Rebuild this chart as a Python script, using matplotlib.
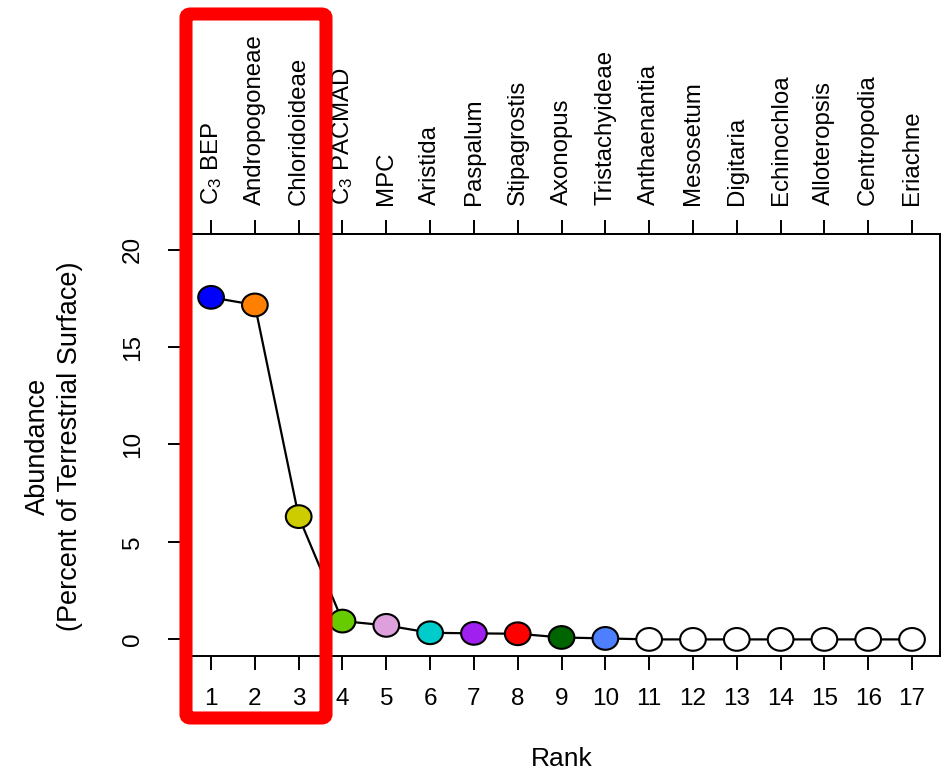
import numpy as np
import matplotlib
matplotlib.use('Agg')
import matplotlib.pyplot as plt
from matplotlib.path import Path
from matplotlib.transforms import Affine2D
from matplotlib.patches import FancyBboxPatch

plt.rcParams['font.family'] = ['Liberation Sans', 'DejaVu Sans']
plt.rcParams['mathtext.fontset'] = 'custom'
plt.rcParams['mathtext.rm'] = 'Liberation Sans'

# rank-abundance of grass lineages
ranks = list(range(1, 18))
lineages = [r'$\mathregular{C_3}$ BEP', 'Andropogoneae', 'Chloridoideae',
            r'$\mathregular{C_3}$ PACMAD', 'MPC', 'Aristida', 'Paspalum',
            'Stipagrostis', 'Axonopus', 'Tristachyideae', 'Anthaenantia',
            'Mesosetum', 'Digitaria', 'Echinochloa', 'Alloteropsis',
            'Centropodia', 'Eriachne']
abundance = [17.55, 17.16, 6.3, 0.94, 0.72, 0.34, 0.31, 0.29, 0.1, 0.05,
             0, 0, 0, 0, 0, 0, 0]
colors = ['#0000FF', '#FF8000', '#CCCC00', '#66CC00', '#DDA0DD', '#00CCCC',
          '#A020F0', '#FF0000', '#006400', '#4D7FFF', 'white', 'white',
          'white', 'white', 'white', 'white', 'white']

fig = plt.figure(figsize=(9.41, 7.72), dpi=100)
ax = fig.add_axes([0.1945, 0.1503, 0.8045, 0.5466])

# slightly wide ellipse for the points
ellipse = Path.unit_circle().transformed(Affine2D().scale(1.13, 1.0))

ax.plot(ranks, abundance, color='black', lw=1.6, zorder=2)
ax.scatter(ranks, abundance, s=18.5 ** 2, marker=ellipse, c=colors,
           edgecolors='black', linewidths=1.5, zorder=3, clip_on=False)

ax.set_xlim(0.36, 17.64)
ax.set_ylim(-0.85, 20.8)
ax.set_xticks(ranks)
ax.set_xticklabels([str(r) for r in ranks], fontsize=17.5)
ax.set_yticks([0, 5, 10, 15, 20])
ax.set_yticklabels(['0', '5', '10', '15', '20'], fontsize=17.5, rotation=90,
                   va='center')
ax.tick_params(axis='x', direction='out', length=10, width=1.4, pad=13)
ax.tick_params(axis='y', direction='out', length=11, width=1.4, pad=17)
for sp in ax.spines.values():
    sp.set_linewidth(1.4)

top = ax.secondary_xaxis('top')
top.set_xticks(ranks)
top.set_xticklabels(lineages, rotation=90, fontsize=17.3)
top.tick_params(direction='out', length=10, width=1.4, pad=11)
top.spines['top'].set_linewidth(1.4)

ax.set_xlabel('Rank', fontsize=19, labelpad=27)
fig.text(54 / 941, 1 - 446 / 772,
         'Abundance\n(Percent of Terrestrial Surface)', fontsize=19.5,
         rotation=90, ha='center', va='center', linespacing=1.3,
         multialignment='center')

# highlight box around the top three lineages
box = FancyBboxPatch((186 / 941, 1 - 718 / 772), 140 / 941, 704 / 772,
                     boxstyle='round,pad=0,rounding_size=0.005',
                     transform=fig.transFigure, fill=False,
                     edgecolor='#FF0000', linewidth=9.4, zorder=10)
fig.patches.append(box)

fig.savefig('out.png', dpi=100)
